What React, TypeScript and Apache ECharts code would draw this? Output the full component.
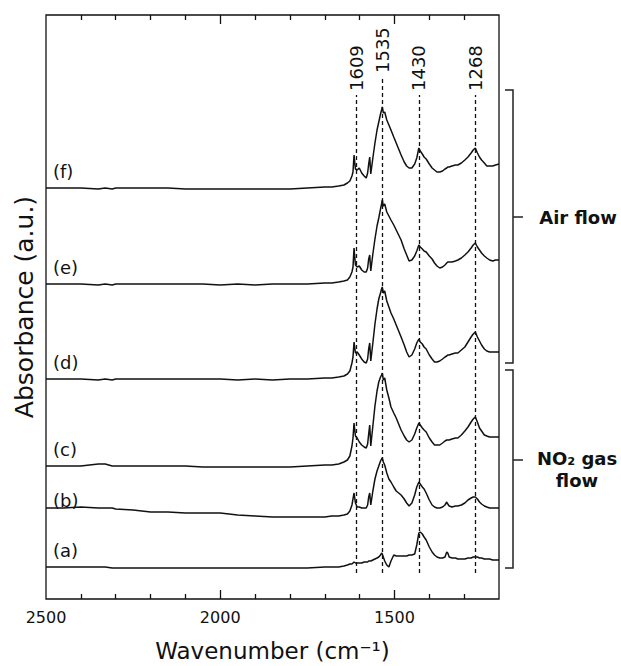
import React, { useEffect, useRef } from 'react';
import * as echarts from 'echarts';

// Wavenumber grid (cm^-1)
const WAVENUMBERS = [
  2500, 2450, 2400, 2350, 2330, 2310, 2300, 2250, 2200, 2150,
  2100, 2050, 2000, 1950, 1900, 1850, 1800, 1750, 1700, 1680,
  1660, 1645, 1635, 1628, 1622, 1619, 1616, 1612, 1607, 1601,
  1594, 1587, 1581, 1577, 1574, 1571, 1568, 1562, 1556, 1550,
  1545, 1540, 1537, 1535, 1532, 1528, 1522, 1516, 1510, 1502,
  1495, 1488, 1481, 1472, 1465, 1458, 1450, 1442, 1436, 1430,
  1426, 1420, 1415, 1409, 1400, 1392, 1385, 1378, 1370, 1362,
  1355, 1350, 1347, 1343, 1335, 1325, 1318, 1308, 1298, 1289,
  1280, 1274, 1268, 1262, 1256, 1250, 1242, 1235, 1227, 1218,
  1210, 1200,
];

// Absorbance above each spectrum's baseline (a.u.)
const SPEC_A = [
  0, 0, 0, 0, 0, -1, -1, -1, -1, -1,
  -1, -1, -1, -1, -1, -1, -1, -1, 0, 0,
  0, 1, 2, 3, 3, 4, 5, 4, 4, 4,
  4, 5, 5, 5, 6, 6, 6, 7, 8, 9,
  10, 12, 14, 13, 10, 6, 2, 0, 6, 12,
  11, 11, 11, 11, 11, 12, 12, 13, 22, 34,
  35, 33, 30, 27, 20, 15, 12, 10, 9, 9,
  10, 15, 14, 10, 9, 9, 8, 8, 8, 9,
  9, 10, 10, 10, 9, 9, 8, 8, 8, 7,
  7, 7,
];
const SPEC_B = [
  9, 9, 10, 9, 9, 9, 8, 7, 5, 5,
  4, 4, 4, 2, 1, 0, 0, 0, 0, 1,
  1, 2, 3, 6, 12, 18, 24, 14, 10, 10,
  9, 9, 9, 12, 20, 24, 12, 26, 38, 46,
  51, 56, 58, 59, 55, 52, 44, 38, 35, 30,
  26, 24, 22, 18, 14, 11, 14, 22, 30, 35,
  33, 30, 28, 24, 17, 12, 10, 9, 9, 10,
  12, 15, 13, 11, 10, 11, 11, 12, 14, 17,
  19, 20, 20, 18, 15, 13, 11, 10, 9, 9,
  9, 9,
];
const SPEC_C = [
  0, 0, 0, 2, 2, 0, 0, 0, 0, 0,
  0, -1, -1, -1, -1, -1, -1, 0, 1, 1,
  2, 4, 6, 10, 20, 28, 43, 30, 28, 24,
  21, 19, 18, 22, 32, 41, 20, 40, 60, 75,
  84, 89, 91, 93, 86, 88, 76, 68, 59, 53,
  48, 42, 36, 30, 26, 24, 26, 32, 38, 43,
  41, 38, 36, 34, 28, 24, 21, 21, 21, 23,
  25, 26, 26, 26, 27, 28, 28, 31, 35, 39,
  44, 47, 49, 44, 38, 35, 31, 30, 29, 29,
  29, 29,
];
const SPEC_D = [
  0, 0, 0, -1, 0, -1, 0, 0, 0, 0,
  0, 0, 0, -1, 0, -1, 0, 0, 1, 1,
  2, 3, 5, 8, 16, 22, 37, 26, 27, 24,
  20, 17, 16, 20, 30, 36, 18, 36, 55, 70,
  80, 86, 90, 92, 86, 88, 78, 72, 66, 60,
  54, 48, 42, 34, 27, 22, 24, 30, 36, 40,
  37, 35, 32, 30, 24, 20, 17, 17, 18, 20,
  22, 23, 24, 24, 25, 26, 26, 29, 32, 37,
  42, 45, 47, 42, 38, 34, 30, 28, 27, 27,
  27, 27,
];
const SPEC_E = [
  0, 0, 0, -1, 0, -1, 0, 0, 0, 0,
  0, 0, -1, 0, -1, 0, 0, 0, 1, 1,
  2, 3, 4, 7, 12, 17, 36, 19, 17, 18,
  14, 12, 12, 16, 25, 29, 13, 30, 45, 58,
  66, 75, 80, 84, 78, 80, 72, 68, 64, 59,
  54, 49, 44, 35, 29, 23, 24, 28, 33, 39,
  37, 35, 33, 32, 28, 25, 21, 18, 16, 17,
  19, 21, 22, 22, 22, 23, 24, 26, 29, 32,
  36, 39, 41, 37, 34, 31, 28, 26, 24, 23,
  24, 24,
];
const SPEC_F = [
  0, 0, 0, -1, 0, -1, 0, 0, 0, 0,
  -1, -1, -1, -1, -1, -1, -1, 0, 1, 1,
  2, 3, 5, 7, 12, 16, 33, 19, 18, 20,
  15, 12, 10, 15, 24, 31, 14, 30, 45, 58,
  66, 74, 78, 81, 75, 76, 68, 63, 58, 51,
  45, 39, 33, 26, 22, 20, 20, 24, 30, 40,
  37, 34, 31, 29, 24, 20, 18, 16, 16, 17,
  19, 20, 21, 21, 22, 23, 23, 25, 28, 31,
  35, 38, 40, 35, 31, 28, 25, 22, 22, 22,
  23, 24,
];

const SPECTRA = [SPEC_A, SPEC_B, SPEC_C, SPEC_D, SPEC_E, SPEC_F];
// Vertical stacking offsets (a.u.)
const BASELINES = [32, 82, 133, 220, 315, 411];
const CURVE_LABELS = ['(a)', '(b)', '(c)', '(d)', '(e)', '(f)'];

// Marked bands (cm^-1)
const PEAKS = [1609, 1535, 1430, 1268];
const PEAK_LINE_TOP = [504, 522, 504, 504];
const PEAK_LINE_BOTTOM = 26;

// Axis ticks (cm^-1)
const X_LABELS = [2500, 2000, 1500];
const X_TICKS = [2400, 2300, 2200, 2100, 2000, 1900, 1800, 1700, 1600, 1500, 1400, 1300];
const X_MAJOR_TICKS = [2000, 1500];

const Y_MIN = 0;
const Y_MAX = 584;

const FONT = 'DejaVu Sans';
const INK = '#111111';
const TICK_MAJOR = 9;
const TICK_MINOR = 5;

export default function App() {
  const ref = useRef<HTMLDivElement>(null);

  useEffect(() => {
    if (!ref.current) return;
    const chart = echarts.init(ref.current, undefined, { renderer: 'svg' });

    const lineSeries = SPECTRA.map((spec, i) => ({
      name: CURVE_LABELS[i],
      type: 'line',
      showSymbol: false,
      symbol: 'none',
      silent: true,
      lineStyle: { color: INK, width: 1.5 },
      data: WAVENUMBERS.map((w, j) => [w, BASELINES[i] + spec[j]]),
      z: 3,
    }));

    const textSeries = (data: any[], rotate: boolean) => ({
      type: 'custom',
      silent: true,
      z: 4,
      data,
      renderItem: (params: any, api: any) => {
        const p = api.coord([api.value(0), api.value(1)]);
        return {
          type: 'text',
          x: p[0],
          y: p[1],
          rotation: rotate ? Math.PI / 2 : 0,
          style: {
            text: data[params.dataIndex].name,
            fill: INK,
            font: `18px "${FONT}"`,
            textAlign: 'left',
            textVerticalAlign: 'middle',
          },
        };
      },
    });

    const tickMarks: any[] = [];
    X_TICKS.forEach((v) => {
      const len = X_MAJOR_TICKS.includes(v) ? TICK_MAJOR : TICK_MINOR;
      tickMarks.push([{ coord: [v, Y_MIN] }, { coord: [v, Y_MIN + len] }]);
      tickMarks.push([{ coord: [v, Y_MAX] }, { coord: [v, Y_MAX - len] }]);
    });

    const option: any = {
      animation: false,
      grid: {
        left: 46,
        right: 122,
        top: 15,
        bottom: 67,
        containLabel: false,
        outerBoundsMode: 'none',
        show: true,
        borderColor: INK,
        borderWidth: 1.3,
      },
      xAxis: {
        type: 'value',
        min: 1200,
        max: 2500,
        inverse: true,
        interval: 100,
        name: 'Wavenumber (cm\u207B\u00B9)',
        nameLocation: 'middle',
        nameGap: 40,
        nameTextStyle: { fontFamily: FONT, fontSize: 23, color: INK },
        axisLine: { show: false, onZero: false },
        axisTick: { show: false },
        splitLine: { show: false },
        axisLabel: {
          show: true,
          customValues: X_LABELS,
          margin: 10,
          fontFamily: FONT,
          fontSize: 16,
          color: INK,
          formatter: (v: number) => String(v),
        },
      },
      yAxis: {
        type: 'value',
        min: Y_MIN,
        max: Y_MAX,
        name: 'Absorbance (a.u.)',
        nameLocation: 'middle',
        nameGap: 9,
        nameRotate: 90,
        nameTextStyle: { fontFamily: FONT, fontSize: 25, color: INK },
        axisLine: { show: false },
        axisTick: { show: false },
        axisLabel: { show: false },
        splitLine: { show: false },
      },
      series: [
        ...lineSeries,
        textSeries(
          BASELINES.map((b, i) => ({ value: [2480, b + 17], name: CURVE_LABELS[i] })),
          false,
        ),
        textSeries(
          PEAKS.map((p, i) => ({ value: [p, PEAK_LINE_TOP[i] + 4], name: String(p) })),
          true,
        ),
        {
          name: 'bands',
          type: 'line',
          data: [],
          silent: true,
          markLine: {
            silent: true,
            symbol: ['none', 'none'],
            label: { show: false },
            lineStyle: { color: INK, width: 1.3, type: [4, 3] },
            data: PEAKS.map((p, i) => [
              { coord: [p, PEAK_LINE_BOTTOM] },
              { coord: [p, PEAK_LINE_TOP[i]] },
            ]),
          },
          z: 2,
        },
        {
          name: 'ticks',
          type: 'line',
          data: [],
          silent: true,
          markLine: {
            silent: true,
            symbol: ['none', 'none'],
            label: { show: false },
            lineStyle: { color: INK, width: 1.3, type: 'solid' },
            data: tickMarks,
          },
          z: 5,
        },
      ],
      graphic: [
        {
          type: 'polyline',
          shape: { points: [[505, 90], [513, 90], [513, 363], [505, 363]] },
          style: { stroke: '#222', lineWidth: 1.5, fill: null },
        },
        {
          type: 'line',
          shape: { x1: 513, y1: 217, x2: 523, y2: 217 },
          style: { stroke: '#222', lineWidth: 1.5 },
        },
        {
          type: 'polyline',
          shape: { points: [[505, 370], [513, 370], [513, 568], [505, 568]] },
          style: { stroke: '#222', lineWidth: 1.5, fill: null },
        },
        {
          type: 'line',
          shape: { x1: 513, y1: 460, x2: 523, y2: 460 },
          style: { stroke: '#222', lineWidth: 1.5 },
        },
        {
          type: 'text',
          x: 578,
          y: 217,
          style: {
            text: 'Air flow',
            textAlign: 'center',
            textVerticalAlign: 'middle',
            font: `bold 18px "${FONT}"`,
            fill: INK,
          },
        },
        {
          type: 'text',
          x: 577,
          y: 469,
          style: {
            text: 'NO\u2082 gas\nflow',
            textAlign: 'center',
            textVerticalAlign: 'middle',
            font: `bold 18px "${FONT}"`,
            lineHeight: 22,
            fill: INK,
          },
        },
      ],
    };

    chart.setOption(option);
    return () => chart.dispose();
  }, []);

  return (
    <div
      ref={ref}
      style={{ position: 'absolute', left: 0, top: 0, width: 621, height: 666, background: '#fff' }}
    />
  );
}
